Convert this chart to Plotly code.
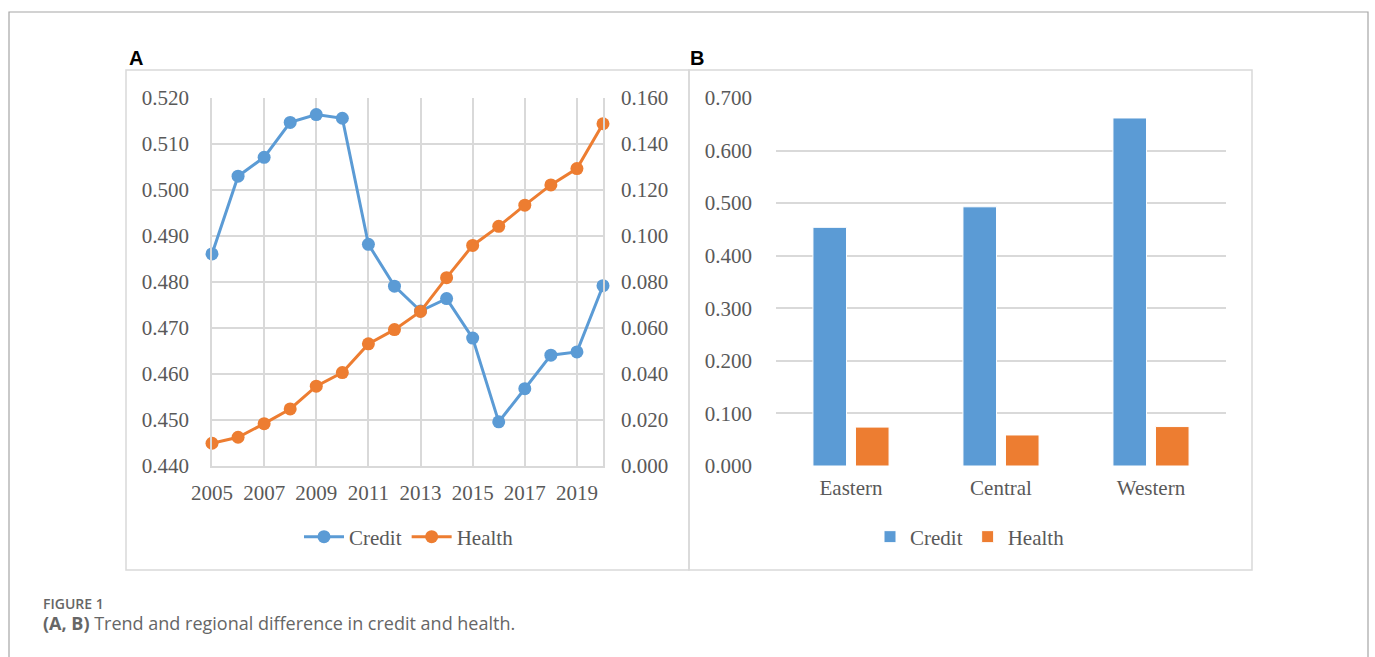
import plotly.graph_objects as go

# ---------------- data ----------------
years = list(range(2005, 2021))
credit_trend = [0.4861, 0.5030, 0.5071, 0.5147, 0.5164, 0.5156, 0.4882, 0.4791,
                0.4737, 0.4764, 0.4678, 0.4496, 0.4568, 0.4641, 0.4648, 0.4792]
health_trend = [0.0099, 0.0125, 0.0184, 0.0248, 0.0347, 0.0406, 0.0531, 0.0593,
                0.0672, 0.0819, 0.0959, 0.1042, 0.1134, 0.1222, 0.1293, 0.1488]
x_ticks = [2005, 2007, 2009, 2011, 2013, 2015, 2017, 2019]

regions = ["Eastern", "Central", "Western"]
credit_region = [0.454, 0.493, 0.662]
health_region = [0.074, 0.059, 0.075]

series_names = ["Credit", "Health"]
panel_labels = ["A", "B"]
caption_head = "FIGURE 1"
caption_body = "<b>(A, B)</b> Trend and regional difference in credit and health."

# ---------------- style ----------------
W, H = 1375, 657
BLUE = "#5B9BD5"
ORANGE = "#ED7D31"
GRID = "#D9D9D9"
TXT = "#595959"
SERIF = "Liberation Serif, Times New Roman, serif"
FS = 21


def px(x):
    return x / W


def py(y):
    return 1 - y / H


fig = go.Figure()

fig.add_trace(go.Scatter(
    x=years, y=credit_trend, name=series_names[0], mode="lines+markers",
    line=dict(color=BLUE, width=3), marker=dict(color=BLUE, size=13),
    xaxis="x", yaxis="y", cliponaxis=False, legend="legend"))
fig.add_trace(go.Scatter(
    x=years, y=health_trend, name=series_names[1], mode="lines+markers",
    line=dict(color=ORANGE, width=3), marker=dict(color=ORANGE, size=13),
    xaxis="x", yaxis="y2", cliponaxis=False, legend="legend"))

fig.add_trace(go.Bar(
    x=regions, y=credit_region, name=series_names[0],
    marker=dict(color=BLUE, line=dict(color="white", width=1)),
    xaxis="x3", yaxis="y3", legend="legend2"))
fig.add_trace(go.Bar(
    x=regions, y=health_region, name=series_names[1],
    marker=dict(color=ORANGE, line=dict(color="white", width=1)),
    xaxis="x3", yaxis="y3", legend="legend2"))

tickfont = dict(family=SERIF, size=FS, color=TXT)
ydom = [py(466), py(98)]

fig.update_layout(
    width=W, height=H,
    margin=dict(l=0, r=0, t=0, b=0, pad=0, autoexpand=False),
    paper_bgcolor="white", plot_bgcolor="white",
    barmode="group", bargap=0.433, bargroupgap=0.21,
    xaxis=dict(domain=[px(212), px(603)], range=[2005, 2020],
               tickvals=x_ticks, ticktext=[str(v) for v in x_ticks],
               showgrid=True, gridcolor=GRID, gridwidth=1.5,
               showline=True, linecolor=GRID, linewidth=1.5,
               zeroline=False, tickfont=tickfont, ticks="",
               ticklabelstandoff=7, automargin=False),
    yaxis=dict(domain=ydom, range=[0.44, 0.52], dtick=0.01, tick0=0.44,
               tickformat=".3f", showgrid=True, gridcolor=GRID, gridwidth=1.5,
               showline=True, linecolor=GRID, linewidth=1.5,
               zeroline=False, tickfont=tickfont, ticks="",
               ticklabelstandoff=17, anchor="x", automargin=False),
    yaxis2=dict(range=[0, 0.16], dtick=0.02, tick0=0, tickformat=".3f",
                overlaying="y", side="right", anchor="x",
                showgrid=False, showline=True, linecolor=GRID, linewidth=1.5,
                zeroline=False, tickfont=tickfont, ticks="",
                ticklabelstandoff=12, automargin=False),
    xaxis3=dict(domain=[px(776), px(1226)], anchor="y3",
                showgrid=False, showline=False, zeroline=False,
                tickfont=tickfont, ticks="", ticklabelstandoff=7,
                automargin=False),
    yaxis3=dict(domain=ydom, anchor="x3", range=[0, 0.7], dtick=0.1,
                tickformat=".3f", showgrid=True, gridcolor=GRID, gridwidth=1.5,
                showline=False, zeroline=False, tickfont=tickfont, ticks="",
                ticklabelstandoff=23, automargin=False),
    legend=dict(orientation="h", x=px(409), y=py(537), xanchor="center",
                yanchor="middle", font=dict(family=SERIF, size=FS, color=TXT),
                bgcolor="rgba(0,0,0,0)", itemwidth=40, tracegroupgap=0),
    legend2=dict(orientation="h", x=px(970), y=py(537), xanchor="center",
                 yanchor="middle", font=dict(family=SERIF, size=FS, color=TXT),
                 bgcolor="rgba(0,0,0,0)", tracegroupgap=0),
    shapes=[
        dict(type="rect", xref="paper", yref="paper",
             x0=px(9), x1=px(1368), y0=-0.05, y1=py(12),
             line=dict(color="#A6A6A6", width=1.2), layer="below"),
        dict(type="rect", xref="paper", yref="paper",
             x0=px(126), x1=px(689), y0=py(570), y1=py(70),
             line=dict(color=GRID, width=1.5), layer="below"),
        dict(type="rect", xref="paper", yref="paper",
             x0=px(689), x1=px(1252), y0=py(570), y1=py(70),
             line=dict(color=GRID, width=1.5), layer="below"),
    ],
    annotations=[
        dict(text="<b>" + panel_labels[0] + "</b>", x=px(136), y=py(58),
             xref="paper", yref="paper", showarrow=False,
             xanchor="center", yanchor="middle",
             font=dict(family="Liberation Sans, Arial", size=20, color="black")),
        dict(text="<b>" + panel_labels[1] + "</b>", x=px(697), y=py(58),
             xref="paper", yref="paper", showarrow=False,
             xanchor="center", yanchor="middle",
             font=dict(family="Liberation Sans, Arial", size=20, color="black")),
        dict(text=caption_head, x=px(41), y=py(603), xref="paper", yref="paper",
             showarrow=False, xanchor="left", yanchor="middle",
             font=dict(family="Open Sans, Noto Sans", size=14, color="#666666",
                       weight=600)),
        dict(text=caption_body, x=px(41), y=py(623), xref="paper", yref="paper",
             showarrow=False, xanchor="left", yanchor="middle",
             font=dict(family="Open Sans, Noto Sans", size=18, color="#666666")),
    ],
)

fig.write_html("out.html", config={"displayModeBar": False},
               post_script="document.body.style.margin='0';")
